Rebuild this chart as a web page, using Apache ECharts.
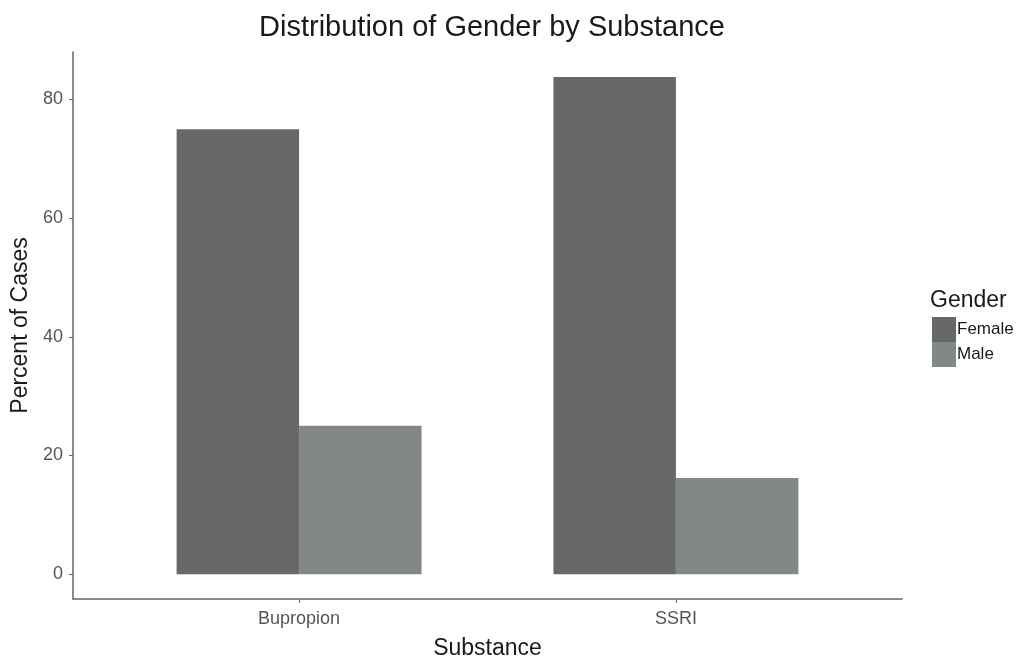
<!DOCTYPE html>
<html><head><meta charset="utf-8">
<script src="https://cdn.jsdelivr.net/npm/echarts@6/dist/echarts.min.js"></script>
<style>html,body{margin:0;padding:0;background:#fff}#c{width:1021px;height:664px}</style>
</head><body><div id="c"></div>
<script>
const categories = ['Bupropion', 'SSRI'];
const seriesNames = ['Female', 'Male'];
const femaleValues = [75.0, 83.8];
const maleValues = [25.0, 16.2];
const yTicks = [0, 20, 40, 60, 80];
const colors = ['#686868', '#818886'];
const FONT = 'Liberation Sans, Arial, sans-serif';

const barHalf = 0.325;
function makeSeries(name, values, side, color) {
  return {
    type: 'custom', name: name,
    itemStyle: { color: color },
    data: values.map((v, i) => [i + 1, v]),
    encode: { x: 0, y: 1 },
    renderItem: function (params, api) {
      const x = api.value(0), v = api.value(1);
      const x0 = side < 0 ? x - barHalf : x;
      const x1 = side < 0 ? x : x + barHalf;
      const p0 = api.coord([x0, v]);
      const p1 = api.coord([x1, 0]);
      return { type: 'rect', shape: { x: p0[0], y: p0[1], width: p1[0] - p0[0], height: p1[1] - p0[1] },
               style: { fill: color } };
    }
  };
}

const chart = echarts.init(document.getElementById('c'));
chart.setOption({
  animation: false,
  backgroundColor: '#fff',
  title: [
    { text: 'Distribution of Gender by Substance', left: 487, top: 8, textAlign: 'center',
      textStyle: { fontFamily: FONT, fontSize: 29, fontWeight: 'normal', color: '#1a1a1a' } },
    { text: 'Gender', left: 925, top: 284,
      textStyle: { fontFamily: FONT, fontSize: 23, fontWeight: 'normal', color: '#1a1a1a' } }
  ],
  legend: {
    orient: 'vertical', left: 927, top: 312, itemWidth: 24, itemHeight: 25, itemGap: 0,
    icon: 'rect', data: seriesNames,
    textStyle: { fontFamily: FONT, fontSize: 17, color: '#1a1a1a', padding: [0, 0, 0, -4] }
  },
  grid: { left: 73, right: 119, top: 52, bottom: 65, containLabel: false, outerBoundsMode: 'none' },
  xAxis: {
    type: 'value', min: 0.4, max: 2.6,
    name: 'Substance', nameLocation: 'middle', nameGap: 38,
    nameTextStyle: { fontFamily: FONT, fontSize: 23, color: '#1a1a1a' },
    axisLine: { show: true, onZero: false, lineStyle: { color: '#666', width: 1.5 } },
    axisTick: { show: true, length: 4, customValues: [1, 2], lineStyle: { color: '#666' } },
    axisLabel: { customValues: [1, 2], formatter: v => categories[Math.round(v) - 1] || '',
      fontFamily: FONT, fontSize: 18, color: '#555', margin: 11 },
    splitLine: { show: false }
  },
  yAxis: {
    type: 'value', min: -4.19, max: 88.0,
    name: 'Percent of Cases', nameLocation: 'middle', nameGap: 35, nameRotate: 90,
    nameTextStyle: { fontFamily: FONT, fontSize: 23, color: '#1a1a1a' },
    axisLine: { show: true, onZero: false, lineStyle: { color: '#666', width: 1.5 } },
    axisTick: { show: true, length: 4, customValues: yTicks, lineStyle: { color: '#666' } },
    axisLabel: { customValues: yTicks, fontFamily: FONT, fontSize: 18, color: '#555', margin: 10 },
    splitLine: { show: false }
  },
  series: [
    makeSeries('Female', femaleValues, -1, colors[0]),
    makeSeries('Male', maleValues, 1, colors[1])
  ]
});
</script></body></html>
